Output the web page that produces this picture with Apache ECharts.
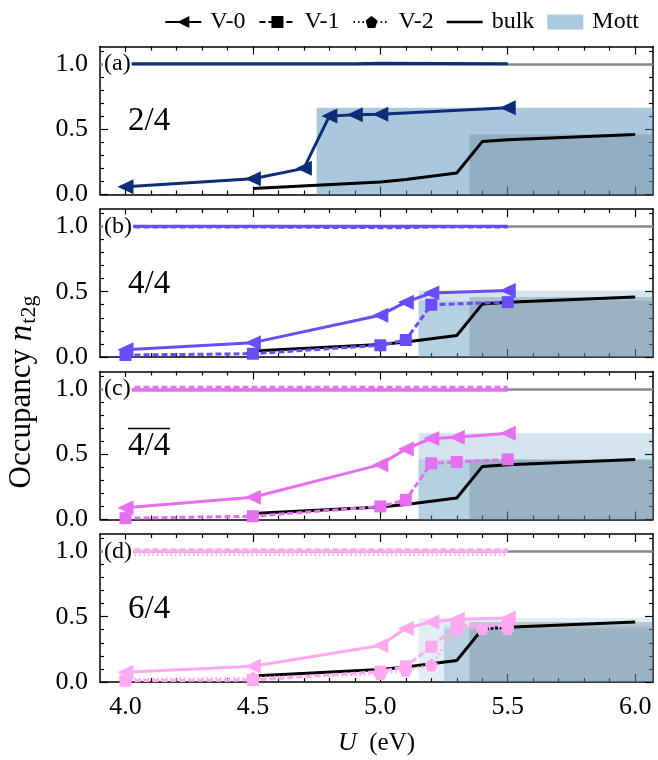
<!DOCTYPE html>
<html><head><meta charset="utf-8">
<script src="https://cdn.jsdelivr.net/npm/echarts@6/dist/echarts.min.js"></script>
<style>html,body{margin:0;padding:0;background:#fff}#c{width:658px;height:760px}</style>
</head><body><div id="c"></div>
<script>
// ---------------- data ----------------
const xMajorTicks = [4.0, 4.5, 5.0, 5.5, 6.0];
const xMinorTicks = [4.1, 4.2, 4.3, 4.4, 4.6, 4.7, 4.8, 4.9, 5.1, 5.2, 5.3, 5.4, 5.6, 5.7, 5.8, 5.9];
const yMajorTicks = [0.0, 0.5, 1.0];
const yMinorTicks = [0.1, 0.2, 0.3, 0.4, 0.6, 0.7, 0.8, 0.9, 1.1];

const bulkU = [4.5, 5.0, 5.1, 5.3, 5.4, 5.5, 6.0];
const bulkN = [0.045, 0.095, 0.115, 0.165, 0.405, 0.42, 0.46];
const bulkMottStart = 5.35;
const bulkMottTop = 0.46;
const upperRef = 1.0;

// panel (a) 2/4
const aU = [4.0, 4.5, 4.7, 4.8, 4.9, 5.0, 5.5];
const aV0 = [0.06, 0.12, 0.20, 0.60, 0.61, 0.615, 0.665];
const aV0up = [1.0, 1.0, 1.0, 1.0, 1.0, 1.005, 1.0];
const aMottStart = [4.75];
const aMottTop = [0.665];

// panel (b) 4/4
const bU = [4.0, 4.5, 5.0, 5.1, 5.2, 5.5];
const bV0 = [0.055, 0.11, 0.32, 0.42, 0.49, 0.51];
const bV1 = [0.015, 0.025, 0.09, 0.13, 0.40, 0.42];
const bV0up = [1.0, 1.0, 1.0, 1.0, 1.0, 1.0];
const bV1up = [0.995, 0.995, 0.99, 0.99, 0.995, 0.995];
const bMottStart = [5.15, 5.15];
const bMottTop = [0.51, 0.43];

// panel (c) 4/4 bar
const cU = [4.0, 4.5, 5.0, 5.1, 5.2, 5.3, 5.5];
const cV0 = [0.09, 0.17, 0.42, 0.54, 0.62, 0.63, 0.66];
const cV1 = [0.01, 0.025, 0.10, 0.15, 0.43, 0.44, 0.46];
const cV0up = [0.99, 0.99, 0.99, 0.99, 0.99, 0.99, 0.99];
const cV1up = [1.012, 1.012, 1.012, 1.012, 1.012, 1.012, 1.012];
const cMottStart = [5.15, 5.15];
const cMottTop = [0.66, 0.46];

// panel (d) 6/4
const dU = [4.0, 4.5, 5.0, 5.1, 5.2, 5.3, 5.5];
const dV0 = [0.075, 0.12, 0.28, 0.41, 0.46, 0.48, 0.49];
const dV1 = [0.01, 0.015, 0.08, 0.12, 0.27, 0.43, 0.43];
const dU2 = [4.0, 4.5, 5.0, 5.1, 5.2, 5.3, 5.4, 5.5];
const dV2 = [0.02, 0.03, 0.065, 0.09, 0.13, 0.40, 0.41, 0.41];
const dV0up = [1.0, 1.0, 1.0, 1.0, 1.0, 1.0, 1.0];
const dV1up = [1.012, 1.012, 1.012, 1.012, 1.012, 1.012, 1.012];
const dV2up = [0.975, 0.975, 0.975, 0.975, 0.975, 0.975, 0.975, 0.975];
const dMottStart = [5.15, 5.25, 5.25];
const dMottTop = [0.49, 0.43, 0.41];

const panelLabels = ['(a)', '(b)', '(c)', '(d)'];
const fracLabels = ['2/4', '4/4', '4/4', '6/4'];
const siteNames = ['V-0', 'V-1', 'V-2'];

// ---------------- layout / style ----------------
const XMIN = 3.9, XMAX = 6.07, YMIN = 0, YMAX = 1.133;
const FONT = 'Liberation Serif';
const tops = [46.5, 209, 371.5, 534];
const GH = 148, GL = 100, GW = 553;
const panelColors = ['#0e2d78', '#6a4cf6', '#e56ff0', '#ffa8f0'];
const LW = 3;
const siteStyles = [
  { symbol: 'triangle', symbolRotate: 90, symbolSize: [15, 16], type: 'solid' },
  { symbol: 'rect', symbolRotate: 0, symbolSize: 12, type: [6, 3] },
  { symbol: 'path://M0,-1 L0.951,-0.309 L0.588,0.809 L-0.588,0.809 L-0.951,-0.309 Z', symbolRotate: 0, symbolSize: 13, type: [1.5, 3] }
];
const mottBase = [83, 146, 189];
const bulkMottColor = 'rgba(99,122,137,0.33)';

const panels = [
  { sites: [{ U: aU, low: aV0, up: aV0up }], mS: aMottStart, mT: aMottTop },
  { sites: [{ U: bU, low: bV0, up: bV0up }, { U: bU, low: bV1, up: bV1up }], mS: bMottStart, mT: bMottTop },
  { sites: [{ U: cU, low: cV0, up: cV0up }, { U: cU, low: cV1, up: cV1up }], mS: cMottStart, mT: cMottTop },
  { sites: [{ U: dU, low: dV0, up: dV0up }, { U: dU, low: dV1, up: dV1up }, { U: dU2, low: dV2, up: dV2up }], mS: dMottStart, mT: dMottTop }
];

const zip = (xs, ys) => xs.map((x, i) => [x, ys[i]]);

const grid = tops.map(t => ({ left: GL, top: t, width: GW, height: GH }));
const xAxis = [], yAxis = [];
function mkAxis(dim, gi, pos, major, labelled) {
  const isX = dim === 'x';
  const majorT = isX ? xMajorTicks : yMajorTicks;
  const minorT = isX ? xMinorTicks : yMinorTicks;
  return {
    type: 'value', gridIndex: gi, position: pos,
    min: isX ? XMIN : YMIN, max: isX ? XMAX : YMAX,
    axisLine: { show: major, onZero: false, lineStyle: { color: '#000', width: 1.5 } },
    axisTick: { show: true, inside: true, length: major ? 8 : 4, customValues: major ? majorT : minorT,
      lineStyle: { color: '#000', width: 1.2 } },
    axisLabel: labelled ? { show: true, customValues: majorT, formatter: v => v.toFixed(1),
      fontFamily: FONT, fontSize: 26, color: '#000', margin: 12 } : { show: false },
    splitLine: { show: false }, minorTick: { show: false }, minorSplitLine: { show: false }
  };
}
for (let gi = 0; gi < 4; gi++) {
  xAxis.push(mkAxis('x', gi, 'bottom', true, gi === 3));
  xAxis.push(mkAxis('x', gi, 'bottom', false, false));
  xAxis.push(mkAxis('x', gi, 'top', true, false));
  xAxis.push(mkAxis('x', gi, 'top', false, false));
  yAxis.push(mkAxis('y', gi, 'left', true, true));
  yAxis.push(mkAxis('y', gi, 'left', false, false));
  yAxis.push(mkAxis('y', gi, 'right', true, false));
  yAxis.push(mkAxis('y', gi, 'right', false, false));
}

const series = [];
panels.forEach((p, gi) => {
  const xi = gi * 4, yi = gi * 4;
  const n = p.sites.length;
  const a = 0.5 / n;
  const areas = p.mS.map((s, k) => [
    { xAxis: s, yAxis: 0, itemStyle: { color: `rgba(${mottBase[0]},${mottBase[1]},${mottBase[2]},${a})` } },
    { xAxis: XMAX, yAxis: p.mT[k] }
  ]);
  areas.push([{ xAxis: bulkMottStart, yAxis: 0, itemStyle: { color: bulkMottColor } }, { xAxis: XMAX, yAxis: bulkMottTop }]);
  series.push({
    type: 'line', xAxisIndex: xi, yAxisIndex: yi, data: [], silent: true, z: 1,
    markArea: { silent: true, z: 1, label: { show: false }, data: areas },
    markLine: { silent: true, z: 1, symbol: 'none', label: { show: false },
      lineStyle: { color: '#888', width: 2.5, type: 'solid' }, data: [{ yAxis: upperRef }] }
  });
  series.push({
    type: 'line', xAxisIndex: xi, yAxisIndex: yi, data: zip(bulkU, bulkN), z: 2, silent: true,
    symbol: 'none', lineStyle: { color: '#000', width: LW }
  });
  p.sites.forEach((s, k) => {
    const st = siteStyles[k];
    series.push({
      type: 'line', xAxisIndex: xi, yAxisIndex: yi, data: zip(s.U, s.up), z: 3, silent: true,
      symbol: 'none', lineStyle: { color: panelColors[gi], width: LW, type: st.type }
    });
    series.push({
      type: 'line', xAxisIndex: xi, yAxisIndex: yi, data: zip(s.U, s.low), z: 4, silent: true,
      symbol: st.symbol, symbolRotate: st.symbolRotate, symbolSize: st.symbolSize, showAllSymbol: true,
      itemStyle: { color: panelColors[gi] },
      lineStyle: { color: panelColors[gi], width: LW, type: st.type }
    });
  });
});
// legend entries
siteNames.forEach((nm, k) => {
  const st = siteStyles[k];
  series.push({ name: nm, type: 'line', xAxisIndex: 0, yAxisIndex: 0, data: [],
    symbol: st.symbol, symbolRotate: st.symbolRotate, color: '#000',
    itemStyle: { color: '#000' }, lineStyle: { color: '#000', width: 2.6, type: st.type } });
});
series.push({ name: 'bulk', type: 'line', xAxisIndex: 0, yAxisIndex: 0, data: [], symbol: 'none',
  color: '#000', itemStyle: { color: '#000' }, lineStyle: { color: '#000', width: LW } });
series.push({ name: 'Mott', type: 'line', xAxisIndex: 0, yAxisIndex: 0, data: [], symbol: 'none',
  color: '#a9c9de', itemStyle: { color: '#a9c9de' }, lineStyle: { color: '#a9c9de' } });

const graphic = [];
tops.forEach((t, gi) => {
  graphic.push({ type: 'text', x: 103, y: t + 17.5, z: 50,
    style: { text: panelLabels[gi], font: `24px "${FONT}"`, fill: '#000', verticalAlign: 'middle',
      backgroundColor: '#fff', padding: [0, 1, 0, 1] } });
  graphic.push({ type: 'text', x: 128, y: t + 75, z: 50,
    style: { text: fracLabels[gi], font: `33px "${FONT}"`, fill: '#000', verticalAlign: 'middle' } });
});
graphic.push({ type: 'line', z: 50, shape: { x1: 128, y1: tops[2] + 57, x2: 170, y2: tops[2] + 57 },
  style: { stroke: '#000', lineWidth: 1.6 } });
graphic.push({ type: 'text', x: 22, y: 392, rotation: Math.PI / 2, z: 50,
  style: { text: '{r|Occupancy }{i|n}{s|t2g}', align: 'center', verticalAlign: 'middle',
    rich: { r: { font: `31px "${FONT}"`, fill: '#000' }, i: { font: `italic 33px "${FONT}"`, fill: '#000' },
      s: { font: `22px "${FONT}"`, fill: '#000', padding: [15, 0, 0, 1] } } } });
graphic.push({ type: 'text', x: GL + GW / 2, y: 743, z: 50,
  style: { text: '{i|U}{r|  (eV)}', align: 'center', verticalAlign: 'middle',
    rich: { i: { font: `italic 26px "${FONT}"`, fill: '#000' }, r: { font: `25px "${FONT}"`, fill: '#000' } } } });

const chart = echarts.init(document.getElementById('c'), null, { renderer: 'canvas' });
chart.setOption({
  animation: false,
  backgroundColor: '#fff',
  grid, xAxis, yAxis, series, graphic,
  legend: {
    top: 5, right: 14, itemWidth: 36, itemHeight: 15, itemGap: 13, selectedMode: false,
    textStyle: { fontFamily: FONT, fontSize: 24, color: '#000', padding: [0, 0, 0, 4] },
    data: [{ name: 'V-0' }, { name: 'V-1' }, { name: 'V-2' },
      { name: 'bulk', icon: 'path://M0,0 L40,0 L40,3 L0,3 Z' }, { name: 'Mott', icon: 'rect' }]
  }
});
</script></body></html>
